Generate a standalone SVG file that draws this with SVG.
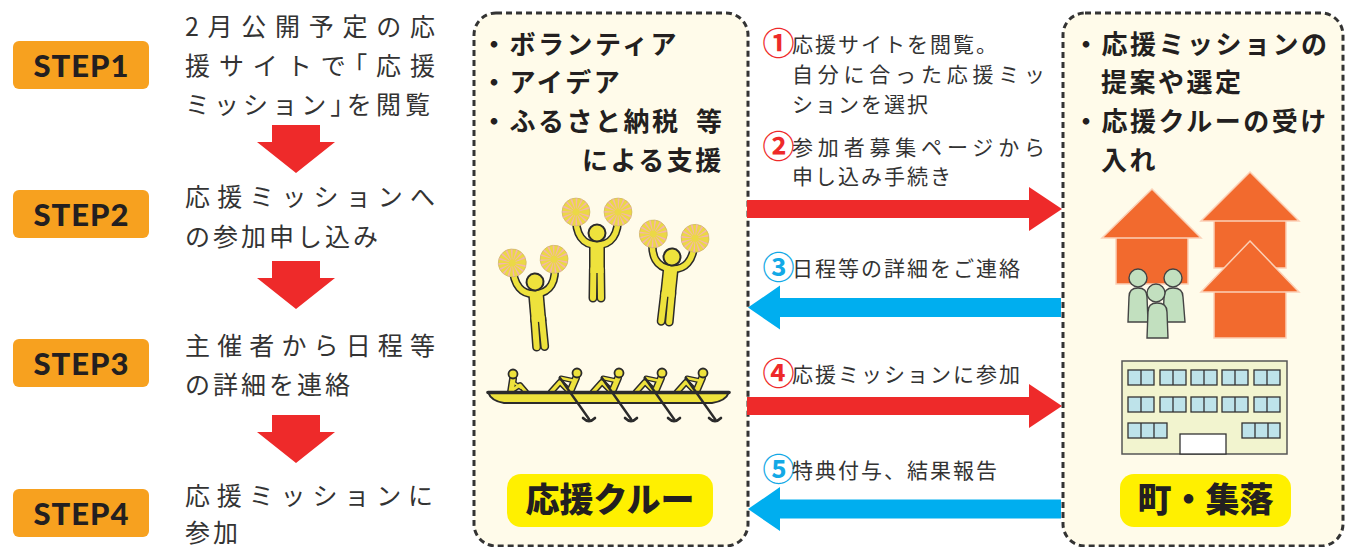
<svg xmlns="http://www.w3.org/2000/svg" xmlns:xlink="http://www.w3.org/1999/xlink" width="1345" height="547" viewBox="0 0 1345 547">
  <style>
    .jp{font-family:'Noto Sans CJK JP','Noto Sans CJK SC',sans-serif;}
    .badge{fill:#F7A11F;}
    .badge-label{font-family:Lato,'Liberation Sans',sans-serif;font-weight:900;font-size:31px;fill:#231F20;text-anchor:middle;}
    .step-text{font-size:25px;fill:#333333;}
    .tight{letter-spacing:3px;}
    .half{font-feature-settings:'halt' 1;}
    .down{fill:#EE2A2A;}
    .panel{fill:#FFFBEA;stroke:#333333;stroke-width:3;stroke-dasharray:6 4;}
    .lead{font-size:26px;font-weight:700;fill:#231F20;letter-spacing:2.5px;}
    .msg{font-size:21px;fill:#333333;letter-spacing:2px;}
    .just{letter-spacing:0;}
    .num{font-size:32px;font-weight:700;text-anchor:middle;}
    .num-red{fill:#EE2A2A;}
    .num-blue{fill:#13A9E6;}
    .arrow-red{fill:#EE2A2A;}
    .arrow-blue{fill:#00AEEF;}
    .tag{fill:#FFF000;}
    .tag-text{font-size:34px;font-weight:900;fill:#231F20;text-anchor:middle;}
    .ink{fill:none;stroke:#2B2B2B;stroke-linecap:round;stroke-linejoin:round;}
    .fill-y{fill:none;stroke:#EEE23C;stroke-linecap:round;stroke-linejoin:round;}
    .roof{fill:#F26A2E;stroke:#FBD0B6;stroke-width:1.5;}
    .person{fill:#C2E0BF;stroke:#444444;stroke-width:1.4;}
    .win{fill:#BEE3EA;stroke:#333333;stroke-width:1.3;}
  </style>
  <defs>
    <!-- down arrow between steps, origin at top centre -->
    <path id="down" d="M -24,0 H 24 V 17 H 39 L 0,48 L -39,17 H -24 Z"/>
    <!-- pom-pom: radial wedges made from a dashed thick stroke -->
    <g id="pom">
      <circle r="14" fill="#F4B4AE"/>
      <circle r="7" fill="none" stroke="#EBD846" stroke-width="14" stroke-dasharray="1.8 1"/>
      <circle r="3.5" fill="#EBD846"/>
      <circle r="14" fill="none" stroke="#C9B46A" stroke-width="0.6"/>
    </g>
    <!-- cheerleader, head centre at origin -->
    <g id="cheer">
      <g class="ink">
        <path d="M -21,-19 C -22,2 -14,12 0,12 C 14,12 22,2 21,-19" stroke-width="8.5"/>
        <path d="M 0,10 V 40" stroke-width="16" stroke-linecap="butt"/>
        <path d="M -3.6,36 L -4,65 M 3.6,36 L 4,65" stroke-width="9"/>
      </g>
      <g class="fill-y">
        <path d="M -21,-19 C -22,2 -14,12 0,12 C 14,12 22,2 21,-19" stroke-width="5.5"/>
        <path d="M 0,10 V 40" stroke-width="13" stroke-linecap="butt"/>
        <path d="M -3.6,36 L -4,65 M 3.6,36 L 4,65" stroke-width="6"/>
      </g>
      <circle r="8.5" fill="#EEE23C" stroke="#2B2B2B" stroke-width="2"/>
      <use xlink:href="#pom" href="#pom" x="-21" y="-21"/>
      <use xlink:href="#pom" href="#pom" x="21" y="-21"/>
    </g>
    <!-- rower, head centre at origin -->
    <g id="rower">
      <g class="ink">
        <path d="M -1,5 L -7,19" stroke-width="8"/>
        <path d="M -7,19 L -17,9 L -26,19" stroke-width="6.5"/>
        <path d="M -2,8 L -16,5" stroke-width="5"/>
      </g>
      <g class="fill-y">
        <path d="M -1,5 L -7,19" stroke-width="5"/>
        <path d="M -7,19 L -17,9 L -26,19" stroke-width="3.5"/>
        <path d="M -2,8 L -16,5" stroke-width="2.5"/>
      </g>
      <circle r="4.5" fill="#EEE23C" stroke="#2B2B2B" stroke-width="1.8"/>
    </g>
    <g id="oar" fill="none" stroke="#2B2B2B" stroke-linecap="round">
      <path d="M -17,5 L 12,46" stroke-width="2.4"/>
      <path d="M 6,45 Q 12,51 18,45" stroke-width="2.6"/>
    </g>
    <path id="arrow-right" d="M 0,-9 H 282 V -22 L 315,0 L 282,22 V 9 H 0 Z"/>
    <path id="arrow-left" d="M 0,-9.5 H -281 V -22 L -313,0 L -281,22 V 9.5 H 0 Z"/>
  </defs>

  <!-- left column: steps -->
  <g id="step1">
    <rect class="badge" x="13" y="41" width="136" height="48" rx="6"/>
    <text class="badge-label" x="81" y="76.5" textLength="95" lengthAdjust="spacing">STEP1</text>
    <text class="jp step-text" x="185" y="36" textLength="250" lengthAdjust="spacing">2月公開予定の応</text>
    <text class="jp step-text" x="185" y="75" textLength="250" lengthAdjust="spacing">援サイトで<tspan class="half">「</tspan>応援</text>
    <text class="jp step-text" x="185" y="114" textLength="245" lengthAdjust="spacing">ミッション<tspan class="half">」</tspan>を閲覧</text>
  </g>
  <g id="step2">
    <rect class="badge" x="13" y="190" width="136" height="48" rx="6"/>
    <text class="badge-label" x="81" y="225.5" textLength="95" lengthAdjust="spacing">STEP2</text>
    <text class="jp step-text" x="185" y="206" textLength="250" lengthAdjust="spacing">応援ミッションへ</text>
    <text class="jp step-text tight" x="185" y="246">の参加申し込み</text>
  </g>
  <g id="step3">
    <rect class="badge" x="13" y="339" width="136" height="48" rx="6"/>
    <text class="badge-label" x="81" y="374.5" textLength="95" lengthAdjust="spacing">STEP3</text>
    <text class="jp step-text" x="185" y="355" textLength="250" lengthAdjust="spacing">主催者から日程等</text>
    <text class="jp step-text tight" x="185" y="394">の詳細を連絡</text>
  </g>
  <g id="step4">
    <rect class="badge" x="13" y="489" width="136" height="48" rx="6"/>
    <text class="badge-label" x="81" y="524.5" textLength="95" lengthAdjust="spacing">STEP4</text>
    <text class="jp step-text" x="185" y="505" textLength="248" lengthAdjust="spacing">応援ミッションに</text>
    <text class="jp step-text tight" x="185" y="542">参加</text>
  </g>
  <g id="step-arrows" class="down">
    <use xlink:href="#down" href="#down" x="296" y="125"/>
    <use xlink:href="#down" href="#down" x="296" y="261"/>
    <use xlink:href="#down" href="#down" x="296" y="415"/>
  </g>

  <!-- supporter crew panel -->
  <g id="crew">
    <rect class="panel" x="474" y="13" width="274" height="533" rx="22"/>
    <text class="jp lead" x="481" y="54">・ボランティア</text>
    <text class="jp lead" x="481" y="92">・アイデア</text>
    <text class="jp lead" x="481" y="131">・ふるさと納税<tspan x="696">等</tspan></text>
    <text class="jp lead" x="582" y="170">による支援</text>

    <g id="cheerleaders">
      <use xlink:href="#cheer" href="#cheer" transform="translate(597,233)"/>
      <use xlink:href="#cheer" href="#cheer" transform="translate(535,282) rotate(-5)"/>
      <use xlink:href="#cheer" href="#cheer" transform="translate(672,257) rotate(6)"/>
    </g>

    <g id="boat">
      <!-- cox -->
      <g class="ink">
        <path d="M 513,379 L 511,392" stroke-width="8"/>
        <path d="M 511,391 L 520,385 L 526,392" stroke-width="6"/>
        <path d="M 513,382 L 521,388" stroke-width="4.5"/>
      </g>
      <g class="fill-y">
        <path d="M 513,379 L 511,392" stroke-width="5"/>
        <path d="M 511,391 L 520,385 L 526,392" stroke-width="3"/>
        <path d="M 513,382 L 521,388" stroke-width="2"/>
      </g>
      <circle cx="513" cy="374" r="4.5" fill="#EEE23C" stroke="#2B2B2B" stroke-width="1.8"/>
      <use xlink:href="#rower" href="#rower" x="577" y="373"/>
      <use xlink:href="#rower" href="#rower" x="619" y="373"/>
      <use xlink:href="#rower" href="#rower" x="662" y="373"/>
      <use xlink:href="#rower" href="#rower" x="703" y="373"/>
      <!-- hull -->
      <path d="M 488,392 H 729 Q 726,401 712,403 H 504 Q 491,401 488,392 Z" fill="#EEE23C" stroke="#2B2B2B" stroke-width="2"/>
      <path d="M 488,392.5 H 729" stroke="#2B2B2B" stroke-width="3.5" stroke-linecap="round"/>
      <use xlink:href="#oar" href="#oar" x="577" y="373"/>
      <use xlink:href="#oar" href="#oar" x="619" y="373"/>
      <use xlink:href="#oar" href="#oar" x="662" y="373"/>
      <use xlink:href="#oar" href="#oar" x="703" y="373"/>
    </g>

    <rect class="tag" x="507" y="474" width="206" height="53" rx="14"/>
    <text class="jp tag-text" x="610" y="512">応援クルー</text>
  </g>

  <!-- town / village panel -->
  <g id="town">
    <rect class="panel" x="1063" y="13" width="280" height="533" rx="22"/>
    <text class="jp lead" x="1073" y="54">・応援ミッションの</text>
    <text class="jp lead" x="1101" y="92">提案や選定</text>
    <text class="jp lead" x="1073" y="131">・応援クルーの受け</text>
    <text class="jp lead" x="1101" y="170">入れ</text>

    <g id="houses">
      <rect class="roof" x="1214" y="220" width="72" height="48"/>
      <polygon class="roof" points="1250,172 1299,221 1201,221"/>
      <rect class="roof" x="1116" y="237" width="72" height="47"/>
      <polygon class="roof" points="1152,189 1201,238 1102,238"/>
      <rect class="roof" x="1214" y="291" width="72" height="47"/>
      <polygon class="roof" points="1250,241 1299,292 1201,292"/>
    </g>
    <g id="residents">
      <path class="person" d="M 1128,322 L 1129,297 Q 1129,288 1138,288 Q 1147,288 1147,297 L 1148,322 Z"/>
      <circle class="person" cx="1138" cy="278" r="9"/>
      <path class="person" d="M 1163,322 L 1164,297 Q 1164,288 1173,288 Q 1183,288 1183,297 L 1185,322 Z"/>
      <circle class="person" cx="1173" cy="278" r="9"/>
      <path class="person" d="M 1147,338 L 1148,312 Q 1148,303 1157,303 Q 1167,303 1167,312 L 1168,338 Z"/>
      <circle class="person" cx="1156" cy="293" r="9"/>
    </g>
    <g id="office">
      <rect x="1122" y="361" width="165" height="93" fill="#F2F4CF" stroke="#555555" stroke-width="1.5"/>
      <g class="win">
        <rect x="1128" y="370" width="26" height="15"/><rect x="1160" y="370" width="26" height="15"/><rect x="1191" y="370" width="26" height="15"/><rect x="1222" y="370" width="26" height="15"/><rect x="1254" y="370" width="26" height="15"/>
        <rect x="1128" y="397" width="26" height="15"/><rect x="1160" y="397" width="26" height="15"/><rect x="1191" y="397" width="26" height="15"/><rect x="1222" y="397" width="26" height="15"/><rect x="1254" y="397" width="26" height="15"/>
        <rect x="1128" y="423" width="39" height="15"/><rect x="1242" y="423" width="38" height="15"/>
      </g>
      <path d="M 1141,370 V 385 M 1173,370 V 385 M 1204,370 V 385 M 1235,370 V 385 M 1267,370 V 385 M 1141,397 V 412 M 1173,397 V 412 M 1204,397 V 412 M 1235,397 V 412 M 1267,397 V 412 M 1141,423 V 438 M 1154,423 V 438 M 1255,423 V 438 M 1268,423 V 438" stroke="#333333" stroke-width="1.3"/>
      <rect x="1180" y="434" width="46" height="20" fill="#FFFFFF" stroke="#333333" stroke-width="1.3"/>
    </g>

    <rect class="tag" x="1120" y="474" width="171" height="53" rx="14"/>
    <text class="jp tag-text" x="1205.5" y="512">町・集落</text>
  </g>

  <!-- exchanges between crew and town -->
  <g id="connectors">
    <use class="arrow-red" xlink:href="#arrow-right" href="#arrow-right" x="747" y="209"/>
    <use class="arrow-blue" xlink:href="#arrow-left" href="#arrow-left" x="1061" y="307.5"/>
    <use class="arrow-red" xlink:href="#arrow-right" href="#arrow-right" x="747" y="406"/>
    <use class="arrow-blue" xlink:href="#arrow-left" href="#arrow-left" x="1061" y="509"/>
  </g>
  <g id="connector-labels" class="jp">
    <text class="num num-red" x="778.5" y="55">①</text>
    <text class="msg" x="792" y="52">応援サイトを閲覧。</text>
    <text class="msg just" x="792" y="82" textLength="253" lengthAdjust="spacing">自分に合った応援ミッ</text>
    <text class="msg" x="792" y="112">ションを選択</text>
    <text class="num num-red" x="778.5" y="158">②</text>
    <text class="msg just" x="792" y="155" textLength="253" lengthAdjust="spacing">参加者募集ページから</text>
    <text class="msg" x="792" y="184">申し込み手続き</text>
    <text class="num num-blue" x="778.5" y="279">③</text>
    <text class="msg" x="792" y="276">日程等の詳細をご連絡</text>
    <text class="num num-red" x="778.5" y="385">④</text>
    <text class="msg" x="792" y="382">応援ミッションに参加</text>
    <text class="num num-blue" x="778.5" y="481">⑤</text>
    <text class="msg" x="792" y="478">特典付与、結果報告</text>
  </g>
</svg>
